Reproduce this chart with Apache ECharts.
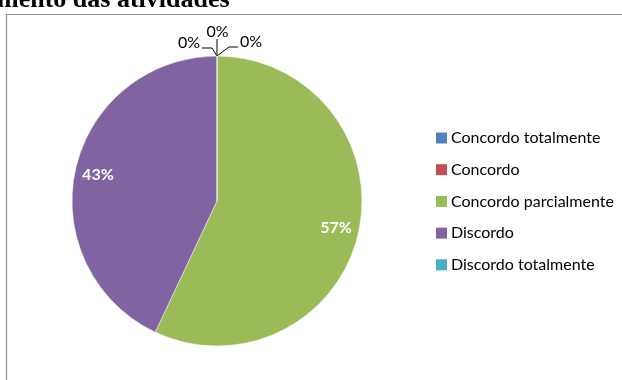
<!DOCTYPE html>
<html>
<head>
<meta charset="utf-8">
<script src="https://cdn.jsdelivr.net/npm/echarts@6/dist/echarts.min.js"></script>
<style>
  html, body { margin: 0; padding: 0; background: #fff; }
  #chart { width: 622px; height: 380px; }
</style>
</head>
<body>
<div id="chart"></div>
<script>
// Answer categories and their share of responses (%)
const categories = ['Concordo totalmente', 'Concordo', 'Concordo parcialmente', 'Discordo', 'Discordo totalmente'];
const shares = [0, 0, 57, 43, 0];
const sliceColors = ['#4F81BD', '#C0504D', '#9BBB59', '#8064A2', '#4BACC6'];
const titleText = 'mento das atividades';

// Where the callouts of empty slices sit around the top of the pie
const calloutSide = { 0: 'right', 1: 'top', 4: 'left' };

const chart = echarts.init(document.getElementById('chart'), null, { renderer: 'canvas' });
const labelFont = 'Lato, "Open Sans", sans-serif';
const center = [217, 201];

function layoutCallout(params) {
  const side = calloutSide[params.dataIndex];
  if (!side || !params.labelLinePoints) return {};
  const a = params.labelLinePoints[0];
  if (side === 'top') {
    return { x: a[0] + 0.5, y: a[1] - 24, align: 'center', verticalAlign: 'middle',
      labelLinePoints: [[a[0], a[1]], [a[0], a[1] - 9], [a[0], a[1] - 17]] };
  }
  if (side === 'left') {
    return { x: a[0] - 17, y: a[1] - 13, align: 'right', verticalAlign: 'middle',
      labelLinePoints: [[a[0], a[1]], [a[0] - 5, a[1] - 8], [a[0] - 15, a[1] - 8]] };
  }
  return { x: a[0] + 23, y: a[1] - 14.5, align: 'left', verticalAlign: 'middle',
    labelLinePoints: [[a[0], a[1]], [a[0] + 12, a[1] - 9], [a[0] + 21, a[1] - 9]] };
}

chart.setOption({
  animation: false,
  color: sliceColors,
  graphic: [
    {
      type: 'rect', silent: true,
      shape: { x: 6.5, y: 14.5, width: 700, height: 500 },
      style: { fill: null, stroke: '#8f8f8f', lineWidth: 1.2 }
    },
    {
      type: 'text', silent: true, left: -3, top: -13,
      style: { text: titleText, font: 'bold 26px "Liberation Serif", "Times New Roman", serif', fill: '#000' }
    }
  ],
  legend: {
    orient: 'vertical',
    left: 436,
    top: 130,
    padding: 0,
    icon: 'rect',
    itemWidth: 11,
    itemHeight: 11,
    itemGap: 15.7,
    selectedMode: false,
    data: categories,
    itemStyle: { borderWidth: 0 },
    textStyle: { fontFamily: labelFont, fontSize: 16, color: '#000', lineHeight: 16, padding: [0, 0, 0, -1] }
  },
  series: [
    {
      type: 'pie',
      center: center,
      radius: 145,
      startAngle: 90,
      clockwise: true,
      avoidLabelOverlap: false,
      silent: true,
      itemStyle: { borderColor: '#fff', borderWidth: 0.5 },
      label: {
        position: 'outside',
        formatter: p => p.value + '%',
        fontFamily: labelFont, fontSize: 16, color: '#000'
      },
      labelLine: { length: 8, length2: 12, lineStyle: { color: '#000', width: 1 } },
      labelLayout: layoutCallout,
      data: categories.map((name, i) => ({
        name: name,
        value: shares[i],
        label: { show: shares[i] === 0 },
        labelLine: { show: shares[i] === 0 }
      }))
    },
    {
      // value labels placed inside the slices, near the rim
      type: 'pie',
      center: center,
      radius: 238,
      startAngle: 90,
      clockwise: true,
      silent: true,
      z: 5,
      itemStyle: { color: 'rgba(0,0,0,0)', borderWidth: 0 },
      label: {
        position: 'inside',
        formatter: p => p.value + '%',
        fontFamily: labelFont, fontSize: 16, fontWeight: 'bold', color: '#fff'
      },
      labelLine: { show: false },
      data: categories.map((name, i) => ({
        name: name,
        value: shares[i],
        label: { show: shares[i] > 0 }
      }))
    }
  ]
});
</script>
</body>
</html>
